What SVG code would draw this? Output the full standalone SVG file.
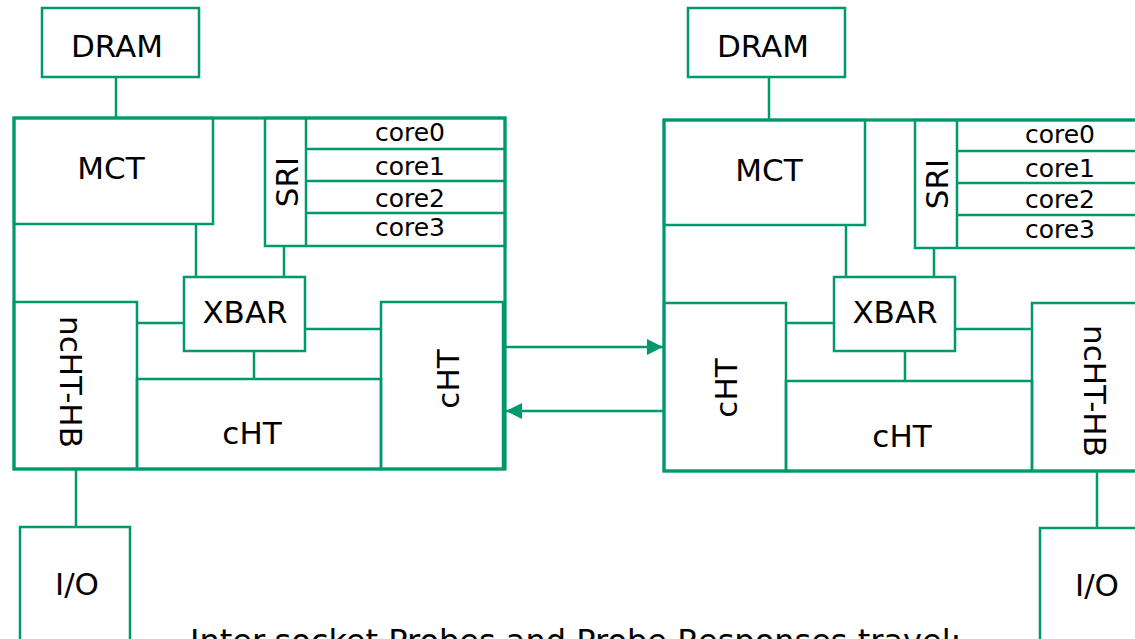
<svg xmlns="http://www.w3.org/2000/svg" width="1135" height="639" viewBox="0 0 1135 639">
<style>
.b{fill:none;stroke:#00996b;stroke-width:2.5}
.o{fill:none;stroke:#00996b;stroke-width:3.2}
.l{stroke:#00996b;stroke-width:2.5;fill:none}
.t{font-family:"DejaVu Sans",Verdana,sans-serif;font-size:31px;fill:#000;text-anchor:middle}
.c{font-family:"DejaVu Sans",Verdana,sans-serif;font-size:25px;fill:#000;text-anchor:middle}
.cap{font-family:"DejaVu Sans",Verdana,sans-serif;font-size:32px;fill:#000}
</style>
<defs>
<marker id="ah" markerUnits="userSpaceOnUse" markerWidth="16" markerHeight="16" refX="16" refY="8" orient="auto">
<path d="M0,0 L16,8 L0,16 z" fill="#00996b"/>
</marker>
</defs>
<rect width="1135" height="639" fill="#fff"/>

<g id="socket-left">
<rect class="o" x="14" y="118" width="491" height="351"/>
</g>
<g id="socket-right">
<rect class="o" x="664" y="120" width="496" height="351"/>
</g>

<g id="dram-left"><rect class="b" x="42" y="8" width="157" height="69"/><text class="t" x="117" y="57">DRAM</text></g>
<g id="mct-left"><rect class="b" x="14" y="118" width="199" height="106"/><text class="t" x="111" y="179">MCT</text></g>
<g id="sri-left"><rect class="b" x="265" y="118" width="240" height="128"/><line class="l" x1="306" y1="118" x2="306" y2="246"/><text class="t" transform="translate(298,182) rotate(-90)">SRI</text></g>
<g id="cores-left">
<line class="l" x1="306" y1="149" x2="505" y2="149"/>
<line class="l" x1="306" y1="181" x2="505" y2="181"/>
<line class="l" x1="306" y1="213" x2="505" y2="213"/>
<text class="c" x="410" y="141">core0</text>
<text class="c" x="410" y="175">core1</text>
<text class="c" x="410" y="207">core2</text>
<text class="c" x="410" y="236">core3</text>
</g>
<g id="xbar-left"><rect class="b" x="184" y="277" width="121" height="74"/><text class="t" x="245" y="323">XBAR</text></g>
<g id="nchthb-left"><rect class="b" x="14" y="302" width="123" height="167"/><text class="t" transform="translate(60,382) rotate(90)">ncHT-HB</text></g>
<g id="cht-v-left"><rect class="b" x="381" y="302" width="122" height="167"/><text class="t" transform="translate(459,379) rotate(-90)">cHT</text></g>
<g id="cht-h-left"><rect class="b" x="137" y="379" width="244" height="90"/><text class="t" x="252" y="444">cHT</text></g>
<g id="io-left"><rect class="b" x="20" y="527" width="110" height="130"/><text class="t" x="77" y="595">I/O</text></g>

<g id="dram-right"><rect class="b" x="688" y="8" width="157" height="69"/><text class="t" x="763" y="57">DRAM</text></g>
<g id="mct-right"><rect class="b" x="664" y="120" width="201" height="105"/><text class="t" x="769" y="181">MCT</text></g>
<g id="sri-right"><rect class="b" x="915" y="120" width="245" height="128"/><line class="l" x1="957" y1="120" x2="957" y2="248"/><text class="t" transform="translate(948,184) rotate(-90)">SRI</text></g>
<g id="cores-right">
<line class="l" x1="957" y1="151" x2="1160" y2="151"/>
<line class="l" x1="957" y1="183" x2="1160" y2="183"/>
<line class="l" x1="957" y1="215" x2="1160" y2="215"/>
<text class="c" x="1060" y="143">core0</text>
<text class="c" x="1060" y="177">core1</text>
<text class="c" x="1060" y="208">core2</text>
<text class="c" x="1060" y="238">core3</text>
</g>
<g id="xbar-right"><rect class="b" x="834" y="277" width="121" height="74"/><text class="t" x="895" y="323">XBAR</text></g>
<g id="cht-v-right"><rect class="b" x="664" y="303" width="122" height="168"/><text class="t" transform="translate(737,388) rotate(-90)">cHT</text></g>
<g id="cht-h-right"><rect class="b" x="786" y="381" width="246" height="90"/><text class="t" x="902" y="447">cHT</text></g>
<g id="nchthb-right"><rect class="b" x="1032" y="303" width="128" height="168"/><text class="t" transform="translate(1084,391) rotate(90)">ncHT-HB</text></g>
<g id="io-right"><rect class="b" x="1040" y="528" width="110" height="130"/><text class="t" x="1097" y="596">I/O</text></g>

<g id="connectors">
<line class="l" x1="116" y1="77" x2="116" y2="118"/>
<line class="l" x1="196" y1="224" x2="196" y2="277"/>
<line class="l" x1="284" y1="246" x2="284" y2="277"/>
<line class="l" x1="137" y1="323" x2="184" y2="323"/>
<line class="l" x1="305" y1="329" x2="381" y2="329"/>
<line class="l" x1="254" y1="351" x2="254" y2="379"/>
<line class="l" x1="76" y1="469" x2="76" y2="527"/>
<line class="l" x1="769" y1="77" x2="769" y2="120"/>
<line class="l" x1="846" y1="225" x2="846" y2="277"/>
<line class="l" x1="934" y1="248" x2="934" y2="277"/>
<line class="l" x1="786" y1="323" x2="834" y2="323"/>
<line class="l" x1="955" y1="329" x2="1032" y2="329"/>
<line class="l" x1="905" y1="351" x2="905" y2="381"/>
<line class="l" x1="1097" y1="471" x2="1097" y2="528"/>
<line class="l" x1="505" y1="347" x2="663" y2="347" marker-end="url(#ah)"/>
<line class="l" x1="664" y1="411" x2="506" y2="411" marker-end="url(#ah)"/>
</g>

<text class="cap" x="190" y="652">Inter-socket Probes and Probe Responses travel:</text>
</svg>
